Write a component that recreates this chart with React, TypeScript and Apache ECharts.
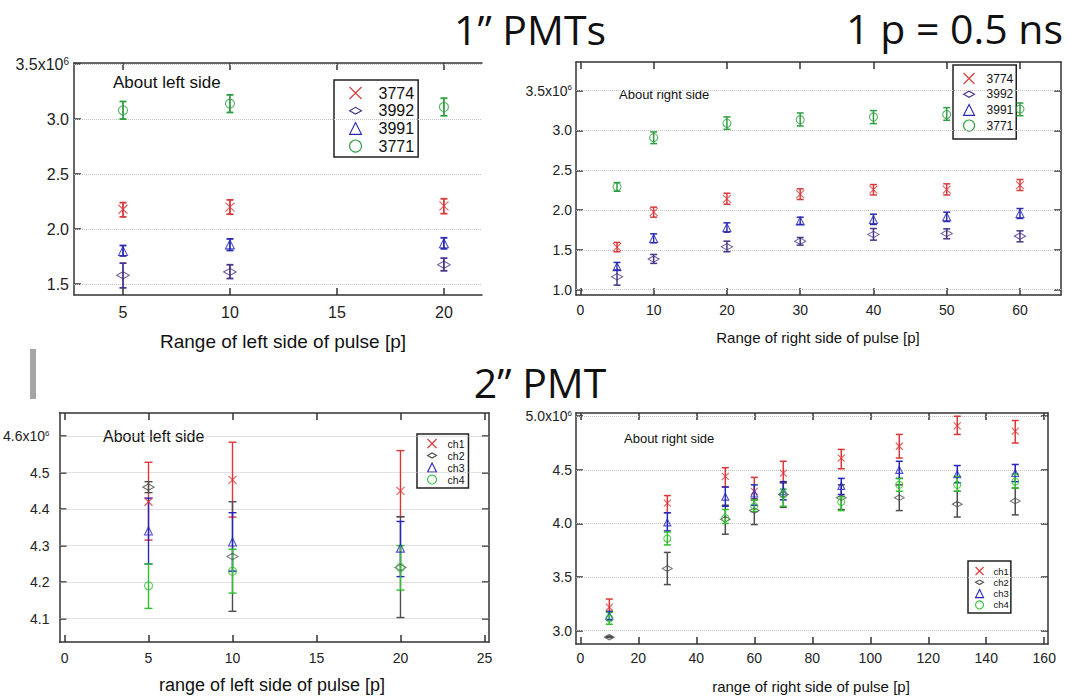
import { useEffect, useRef } from 'react';
import * as echarts from 'echarts';

const FONT = "'Liberation Sans', Arial, sans-serif";
const TFONT = "'Open Sans', 'Noto Sans', sans-serif";

// ---------- data: [x, value, lowErr, highErr] (gain, x10^6) ----------
const tl3774 = [[5, 2.18, 2.11, 2.24], [10, 2.2, 2.135, 2.265], [20, 2.21, 2.14, 2.275]];
const tl3992 = [[5, 1.58, 1.465, 1.69], [10, 1.61, 1.55, 1.675], [20, 1.675, 1.62, 1.735]];
const tl3991 = [[5, 1.8, 1.755, 1.85], [10, 1.86, 1.805, 1.91], [20, 1.87, 1.82, 1.92]];
const tl3771 = [[5, 3.08, 3.0, 3.16], [10, 3.14, 3.06, 3.22], [20, 3.11, 3.03, 3.19]];

const tr3774 = [[5, 1.535, 1.477, 1.594], [10, 1.974, 1.911, 2.037], [20, 2.141, 2.074, 2.212], [30, 2.2, 2.133, 2.267], [40, 2.258, 2.19, 2.321], [50, 2.258, 2.19, 2.33], [60, 2.313, 2.246, 2.384]];
const tr3992 = [[5, 1.163, 1.058, 1.246], [10, 1.385, 1.331, 1.443], [20, 1.54, 1.477, 1.61], [30, 1.61, 1.56, 1.656], [40, 1.694, 1.623, 1.769], [50, 1.706, 1.64, 1.765], [60, 1.673, 1.602, 1.74]];
const tr3991 = [[5, 1.288, 1.246, 1.343], [10, 1.644, 1.589, 1.702], [20, 1.782, 1.723, 1.84], [30, 1.865, 1.82, 1.911], [40, 1.882, 1.82, 1.949], [50, 1.916, 1.857, 1.974], [60, 1.957, 1.895, 2.02]];
const tr3771 = [[5, 2.292, 2.237, 2.346], [10, 2.911, 2.835, 2.982], [20, 3.09, 3.015, 3.17], [30, 3.136, 3.057, 3.22], [40, 3.17, 3.086, 3.25], [50, 3.2, 3.128, 3.287], [60, 3.27, 3.186, 3.345]];

const blCh1 = [[5, 4.42, 4.315, 4.528], [10, 4.48, 4.378, 4.583], [20, 4.45, 4.379, 4.56]];
const blCh2 = [[5, 4.46, 4.445, 4.475], [10, 4.27, 4.12, 4.42], [20, 4.24, 4.103, 4.379]];
const blCh3 = [[5, 4.34, 4.25, 4.43], [10, 4.31, 4.23, 4.39], [20, 4.293, 4.215, 4.366]];
const blCh4 = [[5, 4.19, 4.128, 4.25], [10, 4.23, 4.17, 4.29], [20, 4.24, 4.178, 4.3]];

const brCh1 = [[10, 3.22, 3.18, 3.295], [30, 4.19, 4.1, 4.26], [50, 4.44, 4.34, 4.52], [60, 4.3, 4.22, 4.43], [70, 4.47, 4.38, 4.58], [90, 4.61, 4.51, 4.69], [110, 4.72, 4.61, 4.83], [130, 4.91, 4.83, 5.0], [150, 4.86, 4.75, 4.96]];
const brCh2 = [[10, 2.94, 2.935, 2.945], [30, 3.58, 3.43, 3.73], [50, 4.04, 3.9, 4.17], [60, 4.12, 3.99, 4.23], [70, 4.27, 4.15, 4.38], [90, 4.24, 4.13, 4.36], [110, 4.24, 4.12, 4.36], [130, 4.18, 4.06, 4.3], [150, 4.21, 4.08, 4.33]];
const brCh3 = [[10, 3.14, 3.1, 3.18], [30, 4.01, 3.93, 4.1], [50, 4.25, 4.16, 4.34], [60, 4.28, 4.17, 4.36], [70, 4.3, 4.22, 4.39], [90, 4.35, 4.27, 4.42], [110, 4.5, 4.42, 4.58], [130, 4.46, 4.38, 4.54], [150, 4.47, 4.39, 4.55]];
const brCh4 = [[10, 3.115, 3.06, 3.17], [30, 3.86, 3.8, 3.92], [50, 4.05, 4.0, 4.13], [60, 4.16, 4.11, 4.22], [70, 4.27, 4.16, 4.32], [90, 4.2, 4.12, 4.25], [110, 4.36, 4.3, 4.42], [130, 4.36, 4.3, 4.44], [150, 4.39, 4.33, 4.46]];

// ---------- tick labels ----------
const tlXTicks = [5, 10, 15, 20];
const tlYTicks = [1.5, 2.0, 2.5, 3.0, 3.5];
const trXTicks = [0, 10, 20, 30, 40, 50, 60];
const trYTicks = [1.0, 1.5, 2.0, 2.5, 3.0, 3.5];
const blXTicks = [0, 5, 10, 15, 20, 25];
const blYTicks = [4.1, 4.2, 4.3, 4.4, 4.5, 4.6];
const brXTicks = [0, 20, 40, 60, 80, 100, 120, 140, 160];
const brYTicks = [3.0, 3.5, 4.0, 4.5, 5.0];

const topNames = ['3774', '3992', '3991', '3771'];
const botNames = ['ch1', 'ch2', 'ch3', 'ch4'];

const SYM_X = 'path://M0,0L10,10M0,10L10,0';
const SYM_D = 'path://M0,5L9,0L18,5L9,10Z';
const symbols = [SYM_X, SYM_D, 'triangle', 'circle'];
const topColors = ['#d83a3a', '#4a3488', '#2a2ab4', '#2f9e3f'];
const botColors = ['#e03535', '#4d4d4d', '#2525c0', '#2fbf2f'];

type Panel = {
  grid: { left: number; top: number; width: number; height: number };
  x: [number, number]; y: [number, number];
  xTicks: number[]; yTicks: number[];
  names: string[]; colors: string[]; sets: number[][][];
  tickFont: number; xMargin: number; yMargin: number; symSize: number; cap: number; lw: number;
  rightAxis: boolean;
};

const panels: Panel[] = [
  { grid: { left: 74, top: 63, width: 408, height: 232 }, x: [2.71, 21.78], y: [1.4, 3.51], xTicks: tlXTicks, yTicks: tlYTicks,
    names: topNames, colors: topColors, sets: [tl3774, tl3992, tl3991, tl3771], tickFont: 16, xMargin: 9, yMargin: 5, symSize: 9, cap: 3.5, lw: 1.8, rightAxis: false },
  { grid: { left: 576, top: 62, width: 485, height: 233 }, x: [-0.6, 65.6], y: [0.934, 3.86], xTicks: trXTicks, yTicks: trYTicks,
    names: topNames, colors: topColors, sets: [tr3774, tr3992, tr3991, tr3771], tickFont: 14, xMargin: 8, yMargin: 4, symSize: 8, cap: 3.5, lw: 1.5, rightAxis: true },
  { grid: { left: 56, top: 413, width: 433, height: 229 }, x: [-0.3, 25.27], y: [4.036, 4.663], xTicks: blXTicks, yTicks: blYTicks,
    names: botNames, colors: botColors, sets: [blCh1, blCh2, blCh3, blCh4], tickFont: 14, xMargin: 9, yMargin: 10, symSize: 8, cap: 4, lw: 1.4, rightAxis: true },
  { grid: { left: 576, top: 413, width: 472, height: 231 }, x: [-1.5, 161.3], y: [2.876, 5.03], xTicks: brXTicks, yTicks: brYTicks,
    names: botNames, colors: botColors, sets: [brCh1, brCh2, brCh3, brCh4], tickFont: 14, xMargin: 7, yMargin: 4, symSize: 7, cap: 3.5, lw: 1.5, rightAxis: true },
];

const AX = '#333';

function buildOption() {
  const grid: any[] = [];
  const xAxis: any[] = [];
  const yAxis: any[] = [];
  const series: any[] = [];

  panels.forEach((p, g) => {
    grid.push({ ...p.grid, containLabel: false });
    const line = { show: true, onZero: false, lineStyle: { color: AX, width: 1.5 } };
    const tick = (vals: number[]) => ({ show: true, inside: true, length: 7, customValues: vals, lineStyle: { color: AX, width: 1.5 } });
    const top = p.yTicks[p.yTicks.length - 1];
    xAxis.push({
      gridIndex: g, type: 'value', position: 'bottom', min: p.x[0], max: p.x[1],
      axisLine: line, axisTick: tick(p.xTicks), splitLine: { show: false },
      axisLabel: { customValues: p.xTicks, fontSize: p.tickFont, fontFamily: FONT, color: '#222', margin: p.xMargin },
    });
    xAxis.push({
      gridIndex: g, type: 'value', position: 'top', min: p.x[0], max: p.x[1],
      axisLine: line, axisTick: tick(p.xTicks), splitLine: { show: false }, axisLabel: { show: false },
    });
    yAxis.push({
      gridIndex: g, type: 'value', position: 'left', min: p.y[0], max: p.y[1],
      axisLine: line, axisTick: tick(p.yTicks), splitLine: { show: false },
      axisLabel: {
        customValues: p.yTicks, margin: p.yMargin,
        formatter: (v: number) => (Math.abs(v - top) < 1e-9 ? `{b|${v.toFixed(1)}x10}{s|6}` : `{b|${v.toFixed(1)}}`),
        rich: {
          b: { fontSize: p.tickFont, fontFamily: FONT, color: '#222' },
          s: { fontSize: Math.round(p.tickFont * 0.6), fontFamily: FONT, color: '#222', verticalAlign: 'top' },
        },
      },
    });
    yAxis.push({
      gridIndex: g, type: 'value', position: 'right', min: p.y[0], max: p.y[1], show: p.rightAxis,
      axisLine: line, axisTick: tick(p.yTicks), splitLine: { show: false }, axisLabel: { show: false },
    });

    // dotted horizontal grid lines at the y ticks
    series.push({
      type: 'scatter', name: `grid${g}`, xAxisIndex: 2 * g, yAxisIndex: 2 * g, data: [], silent: true,
      markLine: {
        silent: true, symbol: ['none', 'none'], label: { show: false },
        lineStyle: { color: '#c4c4c4', type: 'dotted', width: 1 },
        emphasis: { disabled: true },
        data: p.yTicks.map((v) => ({ yAxis: v })),
      },
    });

    p.sets.forEach((rows, i) => {
      const color = p.colors[i];
      const cap = p.cap;
      const lw = p.lw;
      series.push({
        type: 'custom', name: `${p.names[i]} err ${g}`, xAxisIndex: 2 * g, yAxisIndex: 2 * g, silent: true, z: 9,
        data: rows.map((r) => [r[0], r[2], r[3]]),
        encode: { x: 0, y: [1, 2] },
        renderItem: (_params: any, api: any) => {
          const x = api.value(0);
          const lo = api.coord([x, api.value(1)]);
          const hi = api.coord([x, api.value(2)]);
          const style = { stroke: color, lineWidth: lw, fill: null };
          return {
            type: 'group',
            children: [
              { type: 'line', shape: { x1: lo[0], y1: lo[1], x2: hi[0], y2: hi[1] }, style },
              { type: 'line', shape: { x1: lo[0] - cap, y1: lo[1], x2: lo[0] + cap, y2: lo[1] }, style },
              { type: 'line', shape: { x1: hi[0] - cap, y1: hi[1], x2: hi[0] + cap, y2: hi[1] }, style },
            ],
          };
        },
      });
      const sym = symbols[i];
      const s = p.symSize;
      series.push({
        type: 'scatter', name: p.names[i], xAxisIndex: 2 * g, yAxisIndex: 2 * g, z: 10,
        data: rows.map((r) => [r[0], r[1]]),
        symbol: sym,
        symbolSize: sym === SYM_D ? [s * 1.4, s * 0.8] : s,
        itemStyle: { color: 'transparent', borderColor: color, borderWidth: 1.1 },
        emphasis: { disabled: true },
      });
    });
  });

  const legendItems = (names: string[], colors: string[]) =>
    names.map((n, i) => ({
      name: n, icon: symbols[i],
      itemStyle: { color: 'transparent', borderColor: colors[i], borderWidth: 1.1, opacity: 1 },
      textStyle: { color: '#111' },
    }));

  const legendBase = {
    orient: 'vertical', selectedMode: false, symbolKeepAspect: true, borderColor: '#222', borderWidth: 1.5,
    backgroundColor: '#fff', inactiveColor: '#111', inactiveBorderColor: '#111',
  };

  const legend = [
    { ...legendBase, left: 334, top: 80, itemWidth: 12, itemHeight: 12, itemGap: 1.7, padding: [5, 4, 3, 15],
      data: legendItems(topNames, topColors),
      textStyle: { fontSize: 16, lineHeight: 16, fontFamily: FONT, color: '#111', padding: [0, 0, 0, 12] } },
    { ...legendBase, left: 953, top: 65, itemWidth: 11, itemHeight: 11, itemGap: 2.7, padding: [7, 3, 7, 10],
      data: legendItems(topNames, topColors),
      textStyle: { fontSize: 12, lineHeight: 13, fontFamily: FONT, color: '#111', padding: [0, 0, 0, 7] } },
    { ...legendBase, left: 417, top: 434, itemWidth: 9, itemHeight: 9, itemGap: 1, padding: [4, 4, 3, 10],
      data: legendItems(botNames, botColors),
      textStyle: { fontSize: 10.5, lineHeight: 11, fontFamily: FONT, color: '#111', padding: [0, 0, 0, 6] } },
    { ...legendBase, left: 968, top: 561, itemWidth: 8, itemHeight: 8, itemGap: 1.3, padding: [5, 2, 3, 7],
      data: legendItems(botNames, botColors),
      textStyle: { fontSize: 9.5, lineHeight: 10, fontFamily: FONT, color: '#111', padding: [0, 0, 0, 5] } },
  ];

  const txt = (text: string, x: number, y: number, size: number, align: string, family = FONT) => ({
    type: 'text', x, y, silent: true,
    style: { text, fontSize: size, fontFamily: family, fill: '#111', textAlign: align, textVerticalAlign: 'middle', align, verticalAlign: 'middle' },
  });

  const graphic = [
    txt('1\u201D PMTs', 530, 29, 41, 'center', TFONT),
    txt('1 p = 0.5 ns', 1063, 28, 41, 'right', TFONT),
    txt('2\u201D PMT', 540, 382, 41, 'center', TFONT),
    { type: 'rect', shape: { x: 30, y: 349, width: 6, height: 50 }, style: { fill: '#a6a6a6' }, silent: true },
    txt('Range of left side of pulse [p]', 283, 341, 19, 'center'),
    txt('Range of right side of pulse [p]', 818, 337, 15, 'center'),
    txt('range of left side of pulse [p]', 272, 685, 18, 'center'),
    txt('range of right side of pulse [p]', 811, 686, 15, 'center'),
    txt('About left side', 113, 82, 17, 'left'),
    txt('About right side', 619, 94, 13, 'left'),
    txt('About left side', 103, 436, 16, 'left'),
    txt('About right side', 624, 438, 13, 'left'),
  ];

  return { animation: false, backgroundColor: '#fff', grid, xAxis, yAxis, series, legend, graphic };
}

export default function App() {
  const ref = useRef<HTMLDivElement>(null);
  useEffect(() => {
    if (!ref.current) return;
    const chart = echarts.init(ref.current, undefined, { renderer: 'svg' });
    chart.setOption(buildOption() as any);
    return () => chart.dispose();
  }, []);
  return <div ref={ref} style={{ position: 'fixed', left: 0, top: 0, width: 1071, height: 696, background: '#fff' }} />;
}
